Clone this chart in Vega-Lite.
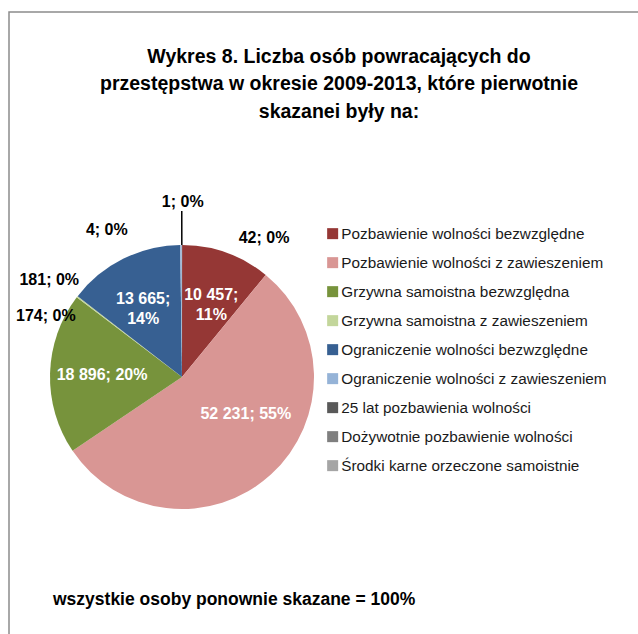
{
  "$schema": "https://vega.github.io/schema/vega-lite/v6.json",
  "width": 632,
  "height": 625,
  "autosize": {"type": "none"},
  "padding": {"left": 9, "top": 12, "right": 0, "bottom": 0},
  "background": "white",
  "config": {
    "font": "Liberation Sans",
    "view": {"stroke": "#8c8c8c", "strokeWidth": 1.5}
  },
  "title": {
    "text": ["Wykres 8. Liczba osób powracających do", "przestępstwa w okresie 2009-2013, które pierwotnie", "skazanei były na:"],
    "font": "Liberation Sans",
    "fontWeight": "bold",
    "fontSize": 19.5,
    "lineHeight": 27.5,
    "color": "#000000",
    "anchor": "middle",
    "frame": "group",
    "dx": 14,
    "offset": -110
  },
  "data": {
    "values": [
      {"kat": "Pozbawienie wolności bezwzględne", "liczba": 10457, "ord": 1},
      {"kat": "Pozbawienie wolności z zawieszeniem", "liczba": 52231, "ord": 2},
      {"kat": "Grzywna samoistna bezwzględna", "liczba": 18896, "ord": 3},
      {"kat": "Grzywna samoistna z zawieszeniem", "liczba": 174, "ord": 4},
      {"kat": "Ograniczenie wolności bezwzględne", "liczba": 13665, "ord": 5},
      {"kat": "Ograniczenie wolności z zawieszeniem", "liczba": 181, "ord": 6},
      {"kat": "25 lat pozbawienia wolności", "liczba": 4, "ord": 7},
      {"kat": "Dożywotnie pozbawienie wolności", "liczba": 1, "ord": 8},
      {"kat": "Środki karne orzeczone samoistnie", "liczba": 42, "ord": 9}
    ]
  },
  "transform": [
    {"joinaggregate": [{"op": "sum", "field": "liczba", "as": "total"}]},
    {"stack": "liczba", "groupby": [], "sort": [{"field": "ord", "order": "ascending"}], "as": ["s0", "s1"]},
    {"calculate": "(datum.s0 + datum.s1) / 2", "as": "mid"},
    {"calculate": "replace(format(datum.liczba, ','), ',', ' ')", "as": "num"},
    {"calculate": "format(datum.liczba / datum.total, '.0%')", "as": "pct"},
    {"calculate": "datum.num + '; ' + datum.pct", "as": "lbl1"},
    {"calculate": "datum.num + ';\\n' + datum.pct", "as": "lbl2"}
  ],
  "layer": [
    {
      "mark": {"type": "arc", "outerRadius": 132},
      "encoding": {
        "x": {"value": 173},
        "y": {"value": 365},
        "theta": {"field": "s0", "type": "quantitative", "scale": {"nice": false, "zero": true}},
        "theta2": {"field": "s1"},
        "color": {
          "field": "kat",
          "type": "nominal",
          "scale": {
            "domain": ["Pozbawienie wolności bezwzględne", "Pozbawienie wolności z zawieszeniem", "Grzywna samoistna bezwzględna", "Grzywna samoistna z zawieszeniem", "Ograniczenie wolności bezwzględne", "Ograniczenie wolności z zawieszeniem", "25 lat pozbawienia wolności", "Dożywotnie pozbawienie wolności", "Środki karne orzeczone samoistnie"],
            "range": ["#953735", "#D99694", "#77933C", "#C3D69B", "#376092", "#95B3D7", "#595959", "#7F7F7F", "#A5A5A5"]
          },
          "legend": {
            "orient": "none",
            "legendX": 316,
            "legendY": 214,
            "title": null,
            "symbolType": "square",
            "symbolSize": 121,
            "symbolStrokeWidth": 0,
            "labelFont": "Liberation Sans",
            "labelFontSize": 15.3,
            "labelColor": "#1a1a1a",
            "labelOffset": 1,
            "rowPadding": 13,
            "padding": 0,
            "labelLimit": 400
          }
        }
      }
    },
    {
      "transform": [{"filter": "datum.ord == 8"}],
      "mark": {"type": "arc", "radius": 166, "radius2": 132, "fill": null, "stroke": "#000000", "strokeWidth": 1.5},
      "encoding": {
        "x": {"value": 173},
        "y": {"value": 365},
        "theta": {"field": "mid", "type": "quantitative"},
        "theta2": {"field": "mid"}
      }
    },
    {
      "transform": [{"filter": "datum.ord == 1 || datum.ord == 5"}],
      "mark": {"type": "text", "radius": 87, "color": "#ffffff", "font": "Liberation Sans", "fontWeight": "bold", "fontSize": 16, "lineBreak": "\n", "lineHeight": 20, "align": "center", "baseline": "middle"},
      "encoding": {
        "x": {"value": 173},
        "y": {"value": 365},
        "theta": {"field": "mid", "type": "quantitative"},
        "text": {"field": "lbl2"}
      }
    },
    {
      "transform": [{"filter": "datum.ord == 3"}],
      "mark": {"type": "text", "radius": 80, "color": "#ffffff", "font": "Liberation Sans", "fontWeight": "bold", "fontSize": 16, "align": "center", "baseline": "middle"},
      "encoding": {
        "x": {"value": 173},
        "y": {"value": 365},
        "theta": {"field": "mid", "type": "quantitative"},
        "text": {"field": "lbl1"}
      }
    },
    {
      "transform": [{"filter": "datum.ord == 2"}],
      "mark": {"type": "text", "radius": 74, "dx": 14, "dy": -18, "color": "#ffffff", "font": "Liberation Sans", "fontWeight": "bold", "fontSize": 16, "align": "center", "baseline": "middle"},
      "encoding": {
        "x": {"value": 173},
        "y": {"value": 365},
        "theta": {"field": "mid", "type": "quantitative"},
        "text": {"field": "lbl1"}
      }
    },
    {
      "transform": [{"filter": "datum.ord == 4"}],
      "mark": {"type": "text", "radius": 140, "dx": -25, "dy": 24, "color": "#000000", "font": "Liberation Sans", "fontWeight": "bold", "fontSize": 16, "align": "center", "baseline": "middle"},
      "encoding": {
        "x": {"value": 173},
        "y": {"value": 365},
        "theta": {"field": "mid", "type": "quantitative"},
        "text": {"field": "lbl1"}
      }
    },
    {
      "transform": [{"filter": "datum.ord == 6"}],
      "mark": {"type": "text", "radius": 97, "dx": -132, "color": "#000000", "font": "Liberation Sans", "fontWeight": "bold", "fontSize": 16, "align": "center", "baseline": "middle"},
      "encoding": {
        "x": {"value": 173},
        "y": {"value": 365},
        "theta": {"field": "mid", "type": "quantitative"},
        "text": {"field": "lbl1"}
      }
    },
    {
      "transform": [{"filter": "datum.ord == 7"}],
      "mark": {"type": "text", "radius": 147, "dx": -75, "color": "#000000", "font": "Liberation Sans", "fontWeight": "bold", "fontSize": 16, "align": "center", "baseline": "middle"},
      "encoding": {
        "x": {"value": 173},
        "y": {"value": 365},
        "theta": {"field": "mid", "type": "quantitative"},
        "text": {"field": "lbl1"}
      }
    },
    {
      "transform": [{"filter": "datum.ord == 8"}],
      "mark": {"type": "text", "radius": 175, "dx": 1, "color": "#000000", "font": "Liberation Sans", "fontWeight": "bold", "fontSize": 16, "align": "center", "baseline": "middle"},
      "encoding": {
        "x": {"value": 173},
        "y": {"value": 365},
        "theta": {"field": "mid", "type": "quantitative"},
        "text": {"field": "lbl1"}
      }
    },
    {
      "transform": [{"filter": "datum.ord == 9"}],
      "mark": {"type": "text", "radius": 139, "dx": 82, "color": "#000000", "font": "Liberation Sans", "fontWeight": "bold", "fontSize": 16, "align": "center", "baseline": "middle"},
      "encoding": {
        "x": {"value": 173},
        "y": {"value": 365},
        "theta": {"field": "mid", "type": "quantitative"},
        "text": {"field": "lbl1"}
      }
    },
    {
      "data": {"values": [{"notka": "wszystkie osoby ponownie skazane = 100%"}]},
      "mark": {"type": "text", "font": "Liberation Sans", "fontWeight": "bold", "fontSize": 17.5, "color": "#000000", "align": "left", "baseline": "alphabetic"},
      "encoding": {
        "x": {"value": 44},
        "y": {"value": 593},
        "text": {"field": "notka"}
      }
    }
  ]
}
